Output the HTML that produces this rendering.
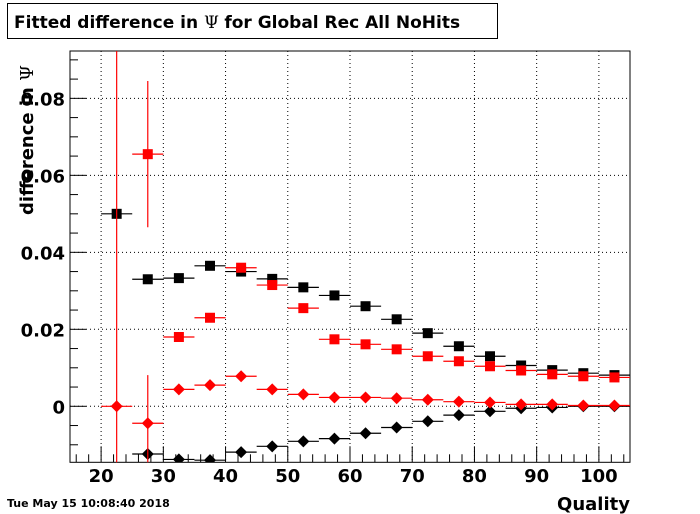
<!DOCTYPE html>
<html><head><meta charset="utf-8"><style>
html,body{margin:0;padding:0;background:#fff;overflow:hidden;width:700px;height:514px;}
svg{display:block;}
svg text{font-family:"DejaVu Sans","Liberation Sans",sans-serif;font-weight:bold;}
</style></head><body>
<svg id="c" width="700" height="514" viewBox="0 0 700 514">
<rect x="0" y="0" width="700" height="514" fill="#fff"/>
<g>
<rect x="7.5" y="3.5" width="490" height="35" fill="#fff" stroke="#000" stroke-width="1"/>
<text x="14" y="28" font-size="17">Fitted difference in <tspan font-family="DejaVu Serif,serif" font-weight="normal">  Ψ  </tspan>for Global Rec All NoHits</text>
</g>
<g id="grid"></g>
<g id="axes"></g>
<g id="marks"></g>
<text x="630" y="510" font-size="18" text-anchor="end">Quality</text>
<text transform="translate(33,215) rotate(-90)" font-size="18">difference in <tspan font-family="DejaVu Serif,serif" font-weight="normal"> Ψ</tspan></text>
<text x="7" y="507" font-size="11">Tue May 15 10:08:40 2018</text>
</svg>
<script>
const bins=[22.5,27.5,32.5,37.5,42.5,47.5,52.5,57.5,62.5,67.5,72.5,77.5,82.5,87.5,92.5,97.5,102.5];
const blackSquare=[0.050,0.033,0.0333,0.0365,0.035,0.0331,0.0309,0.0288,0.026,0.0226,0.019,0.0156,0.013,0.0106,0.0094,0.0086,0.0081];
const blackSquareErr=[0.0005,0.0012,0.0005,0.0004,0.0004,0.0003,0.0003,0.0003,0.0003,0.0003,0.0003,0.0003,0.0003,0.0003,0.0003,0.0003,0.0003];
const redSquare=[null,0.0655,0.018,0.023,0.036,0.0315,0.0255,0.0174,0.0161,0.0148,0.013,0.0117,0.0104,0.0093,0.0083,0.0078,0.0075];
const redSquareErr=[0,0.019,0.0007,0.0007,0.001,0.0004,0.0003,0.0003,0.0003,0.0003,0.0003,0.0003,0.0003,0.0003,0.0003,0.0003,0.0003];
const redDiamond=[0,-0.0044,0.0044,0.0055,0.0078,0.0044,0.0031,0.0023,0.0023,0.0021,0.0017,0.0012,0.001,0.0005,0.0005,0.0002,0.0002];
const redDiamondErr=[0.2,0.0125,0.0006,0.0005,0.0004,0.0003,0.0003,0.0002,0.0002,0.0002,0.0002,0.0002,0.0002,0.0002,0.0002,0.0002,0.0002];
const blackDiamond=[null,-0.0124,-0.0138,-0.014,-0.0119,-0.0104,-0.0091,-0.0084,-0.007,-0.0055,-0.0039,-0.0023,-0.0013,-0.0005,-0.0003,0.0,0.0];
const xTicks=[20,30,40,50,60,70,80,90,100];
const yTicks=[0,0.02,0.04,0.06,0.08];
const yTickLabels=["0","0.02","0.04","0.06","0.08"];
const binW=5;
const X0=70,X1=630,Y0=51,Y1=462.3,xmin=15,xmax=105,ymin=-0.01455,ymax=0.0923;
const NS="http://www.w3.org/2000/svg";
function xs(v){return X0+(v-xmin)/(xmax-xmin)*(X1-X0);}
function ys(v){return Y1-(v-ymin)/(ymax-ymin)*(Y1-Y0);}
function mk(tag,attrs,parent){const e=document.createElementNS(NS,tag);for(const k in attrs)e.setAttribute(k,attrs[k]);parent.appendChild(e);return e;}
const grid=document.getElementById('grid'),axes=document.getElementById('axes'),marks=document.getElementById('marks');
xTicks.forEach(t=>{const l=mk('line',{x1:xs(t),x2:xs(t),y1:Y0,y2:Y1,stroke:'#000','stroke-width':1,'stroke-dasharray':'1,3'},grid);

});
yTicks.forEach(t=>{const l=mk('line',{x1:X0,x2:X1,y1:ys(t),y2:ys(t),stroke:'#000','stroke-width':1,'stroke-dasharray':'1,3'},grid);

});
const fr=mk('rect',{x:X0,y:Y0,width:X1-X0,height:Y1-Y0,fill:'none',stroke:'#000','stroke-width':1},axes);


for(let v=16;v<=105;v+=2){const maj=xTicks.includes(v);
const t=mk('line',{x1:xs(v),x2:xs(v),y1:Y1,y2:Y1-(maj?16:8),stroke:'#000','stroke-width':1},axes);

}
xTicks.forEach(v=>{const t=mk('text',{x:xs(v),y:482,'font-size':18,'text-anchor':'middle'},axes);t.textContent=v;

});
for(let i=-2;i<=18;i++){const v=i*0.005;if(v<ymin||v>ymax)continue;const maj=i%4===0;
const t=mk('line',{x1:X0,x2:X0+(maj?16:8),y1:ys(v),y2:ys(v),stroke:'#000','stroke-width':1},axes);

}
yTicks.forEach((v,i)=>{const t=mk('text',{x:65,y:ys(v)+7,'font-size':18,'text-anchor':'end'},axes);t.textContent=yTickLabels[i];

});
const defs=mk('defs',{},marks);const cp=mk('clipPath',{id:'clip'},defs);mk('rect',{x:X0,y:Y0,width:X1-X0,height:Y1-Y0},cp);
function series(vals,errs,color,shape,name){
const g=mk('g',{'clip-path':'url(#clip)'},marks);


vals.forEach((v,i)=>{if(v===null)return;const cx=xs(bins[i]),cy=ys(v);
const e=errs?errs[i]:0;
const h=mk('line',{x1:xs(bins[i]-binW/2),x2:xs(bins[i]+binW/2),y1:cy,y2:cy,stroke:color,'stroke-width':1.2},g);


if(e>0){const vl=mk('line',{x1:cx,x2:cx,y1:ys(v+e),y2:ys(v-e),stroke:color,'stroke-width':1.2},g);

}
let m;
if(shape==='sq')m=mk('rect',{x:cx-5,y:cy-5,width:10,height:10,fill:color},g);
else m=mk('polygon',{points:`${cx},${cy-6} ${cx+6},${cy} ${cx},${cy+6} ${cx-6},${cy}`,fill:color},g);

});
}
series(blackDiamond,null,'#000','di','black-diamond-series');
series(blackSquare,blackSquareErr,'#000','sq','black-square-series');
series(redSquare,redSquareErr,'#f00','sq','red-square-series');
series(redDiamond,redDiamondErr,'#f00','di','red-diamond-series');
</script>
</body></html>
